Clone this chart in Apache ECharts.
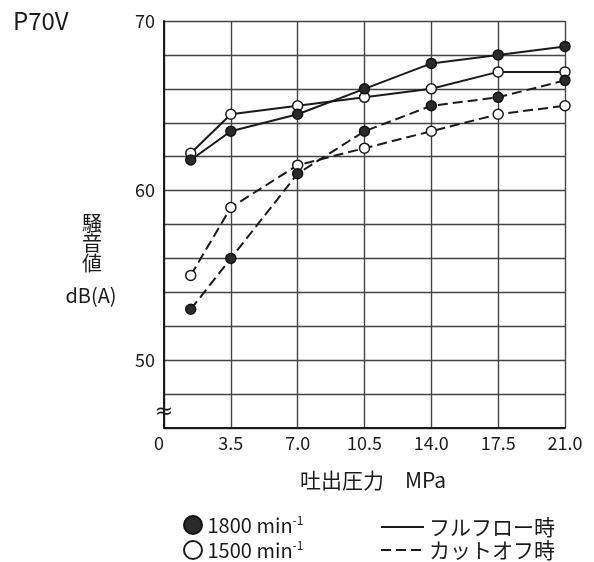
<!DOCTYPE html>
<html>
<head>
<meta charset="utf-8">
<script src="https://cdn.jsdelivr.net/npm/echarts@6/dist/echarts.min.js"></script>
<style>
  html, body { margin: 0; padding: 0; background: #fff; }
  #chart { width: 594px; height: 562px; }
</style>
</head>
<body>
<div id="chart"></div>
<script>
// 吐出圧力 MPa
const pressure = [1.4, 3.5, 7.0, 10.5, 14.0, 17.5, 21.0]
// 騒音値 dB(A)
const full1800 = [61.8, 63.5, 64.5, 66.0, 67.5, 68.0, 68.5]
const full1500 = [62.2, 64.5, 65.0, 65.5, 66.0, 67.0, 67.0]
const cut1800 = [53.0, 56.0, 61.0, 63.5, 65.0, 65.5, 66.5]
const cut1500 = [55.0, 59.0, 61.5, 62.5, 63.5, 64.5, 65.0]

const xTickLabels = ['0', '3.5', '7.0', '10.5', '14.0', '17.5', '21.0']
const yTickLabels = ['50', '60', '70']

const FONT = '"Noto Sans CJK JP", "Noto Sans", sans-serif'
const INK = '#1a1a1a'

const pairs = (ys) => pressure.map((x, i) => [x, ys[i]])

const filledItem = { color: '#2a2a2a', borderColor: '#111', borderWidth: 1.5 }
const openItem = { color: '#fff', borderColor: '#1a1a1a', borderWidth: 1.5 }
const solidLine = { color: INK, width: 2, type: 'solid' }
const dashLine = { color: INK, width: 2, type: [10, 5] }

// 凡例（1項目ずつ配置）
const rpmText = {
  color: INK, fontSize: 20, fontFamily: FONT, lineHeight: 22,
  rich: { sup: { fontSize: 12, fontFamily: FONT, color: INK, lineHeight: 22, padding: [0, 0, 10, 0] } },
}
const styleText = { color: INK, fontSize: 21, fontFamily: FONT, lineHeight: 22 }
const rpmLegend = (name, top) => ({
  data: [name], left: 183, top, padding: 0, icon: 'circle', itemWidth: 19, itemHeight: 18,
  selectedMode: false, formatter: (n) => n + ' min{sup|-1}', textStyle: rpmText,
})
const styleLegend = (name, top) => ({
  data: [name], left: 380, top, padding: 0, itemWidth: 43, itemHeight: 14,
  selectedMode: false, textStyle: styleText, itemStyle: { opacity: 0 },
})

const chart = echarts.init(document.getElementById('chart'), null, { renderer: 'canvas' })

chart.setOption({
  backgroundColor: '#fff',
  animation: false,
  grid: { left: 164, top: 21, width: 401, height: 407, containLabel: false, outerBoundsMode: 'none' },
  xAxis: {
    type: 'value', min: 0, max: 21, interval: 3.5,
    axisLine: { lineStyle: { color: INK, width: 2 } },
    axisTick: { show: false },
    axisLabel: {
      color: INK, fontSize: 18, fontFamily: FONT, margin: 6, alignMinLabel: 'right',
      formatter: (v) => xTickLabels[Math.round(v / 3.5)] || '',
    },
    splitLine: { show: true, lineStyle: { color: '#444', width: 1.4 } },
    name: '吐出圧力　MPa', nameLocation: 'middle', nameGap: 42,
    nameTextStyle: { color: INK, fontSize: 21, fontFamily: FONT, padding: [0, 0, 0, 17] },
  },
  yAxis: {
    type: 'value', min: 46, max: 70, interval: 2,
    axisLine: { show: true, lineStyle: { color: INK, width: 2 } },
    axisTick: { show: false },
    axisLabel: {
      color: INK, fontSize: 18, fontFamily: FONT, margin: 9,
      formatter: (v) => (yTickLabels.includes(String(v)) ? String(v) : ''),
    },
    splitLine: { show: true, lineStyle: { color: '#444', width: 1.4 } },
  },
  legend: [
    rpmLegend('1800', 514),
    rpmLegend('1500', 539),
    styleLegend('フルフロー時', 516),
    styleLegend('カットオフ時', 539),
  ],
  graphic: [
    { type: 'text', left: 13, top: 9, style: { text: 'P70V', font: '24px ' + FONT, fill: INK } },
    { type: 'text', x: 92, y: 213, style: { text: '騒\n音\n値', font: '20px ' + FONT, lineHeight: 20, fill: INK, align: 'center' } },
    { type: 'text', x: 91, y: 285, style: { text: 'dB(A)', font: '20px ' + FONT, fill: INK, align: 'center' } },
    { type: 'text', x: 164, y: 401, style: { text: '≈', font: '22px "DejaVu Sans"', fill: INK, align: 'center' } },
  ],
  series: [
    { name: 'フルフロー時', type: 'line', data: [], symbol: 'none', showSymbol: false, lineStyle: solidLine, itemStyle: { color: INK } },
    { name: 'カットオフ時', type: 'line', data: [], symbol: 'none', showSymbol: false, lineStyle: dashLine, itemStyle: { color: INK } },
    { name: '1800', type: 'line', data: [], symbol: 'circle', itemStyle: filledItem, lineStyle: { width: 0 } },
    { name: '1500', type: 'line', data: [], symbol: 'circle', itemStyle: { color: '#fff', borderColor: INK, borderWidth: 1 }, lineStyle: { width: 0 } },
    { name: 'cut1500', type: 'line', data: pairs(cut1500), symbol: 'circle', symbolSize: 10, lineStyle: dashLine, itemStyle: openItem, z: 3 },
    { name: 'cut1800', type: 'line', data: pairs(cut1800), symbol: 'circle', symbolSize: 10, lineStyle: dashLine, itemStyle: filledItem, z: 4 },
    { name: 'full1500', type: 'line', data: pairs(full1500), symbol: 'circle', symbolSize: 10, lineStyle: solidLine, itemStyle: openItem, z: 3 },
    { name: 'full1800', type: 'line', data: pairs(full1800), symbol: 'circle', symbolSize: 10, lineStyle: solidLine, itemStyle: filledItem, z: 4 },
  ],
})
</script>
</body>
</html>
